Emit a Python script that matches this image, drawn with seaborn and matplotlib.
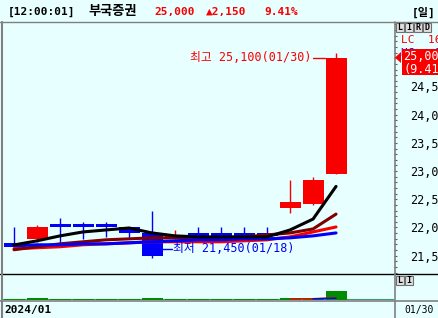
import numpy as np
import pandas as pd
import matplotlib
matplotlib.use("Agg")
import matplotlib.pyplot as plt
import seaborn as sns
from matplotlib.lines import Line2D
from matplotlib.patches import Rectangle, Polygon
from matplotlib.ticker import FixedLocator, MultipleLocator, FuncFormatter

# ---------------- data ----------------
dates = ["01/10", "01/11", "01/12", "01/15", "01/16", "01/17", "01/18", "01/19",
         "01/22", "01/23", "01/24", "01/25", "01/26", "01/29", "01/30"]
open_ = [21720, 21800, 22060, 22060, 22060, 22000, 21900, 21800,
         21900, 21900, 21900, 21900, 22350, 22420, 22950]
close = [21650, 22000, 22000, 22000, 22000, 21900, 21500, 21850,
         21850, 21850, 21850, 21850, 22450, 22850, 25000]
high = [22000, 22050, 22170, 22100, 22100, 22000, 22300, 21950,
        22000, 22000, 22010, 22000, 22850, 22900, 25100]
low = [21650, 21750, 21730, 21800, 21830, 21800, 21450, 21800,
       21850, 21850, 21850, 21850, 22250, 22400, 22950]
ma5 = [21690, 21763, 21851, 21921, 21956, 21991, 21903, 21851,
       21833, 21833, 21833, 21833, 21956, 22149, 22728]
ma10 = [21605, 21658, 21710, 21746, 21781, 21798, 21816, 21816,
        21816, 21816, 21833, 21868, 21903, 21974, 22237]
ma20 = [21623, 21640, 21658, 21693, 21710, 21728, 21746, 21746,
        21746, 21746, 21763, 21781, 21833, 21921, 22009]
ma60 = [21675, 21693, 21693, 21710, 21710, 21728, 21746, 21763,
        21781, 21781, 21798, 21798, 21816, 21851, 21903]
volume = [150, 200, 120, 100, 100, 110, 190, 140, 100, 90, 80, 110, 170, 120, 1000]
vol_ma_red = [np.nan] * 12 + [140, 150, 250]
vol_ma_blue = [np.nan] * 13 + [130, 200]
price_ticks = [21500, 22000, 22500, 23000, 23500, 24000, 24500]

# ---------------- style ----------------
BG = "#E8FFFF"
RED = "#F80000"
BLUE = "#0000F8"
MAROON = "#800000"
GREEN = "#008C00"
GREY = "#808080"
sns.set_style("white")
plt.rcParams["font.family"] = ["DejaVu Sans Mono", "Noto Sans CJK KR"]

W, H = 438, 318
def fx(x):
    return x / W
def fy(y):
    return 1 - y / H

fig = plt.figure(figsize=(4.38, 3.18), dpi=100, facecolor=BG)

# main axes: px x 3..394, y 22..274
ax = fig.add_axes([fx(3), fy(274), fx(394) - fx(3), fy(22) - fy(274)], facecolor=BG)
n = len(dates)
xs = np.arange(n)
o = np.array(open_); c = np.array(close)
colors = [RED if c[i] >= o[i] else BLUE for i in range(n)]
ax.vlines(xs, low, high, colors=colors, linewidth=1.0, zorder=2)
body_h = np.maximum(np.abs(c - o), 40)
ax.bar(xs, body_h, bottom=np.minimum(o, c), width=0.91, color=colors,
       linewidth=0, zorder=3)

ma_df = pd.concat([
    pd.DataFrame({"x": xs, "v": ma20, "ma": "MA20"}),
    pd.DataFrame({"x": xs, "v": ma10, "ma": "MA10"}),
    pd.DataFrame({"x": xs, "v": ma60, "ma": "MA60"}),
    pd.DataFrame({"x": xs, "v": ma5, "ma": "MA5"}),
])
sns.lineplot(data=ma_df, x="x", y="v", hue="ma",
             hue_order=["MA20", "MA10", "MA60", "MA5"],
             palette={"MA20": RED, "MA10": MAROON, "MA60": BLUE, "MA5": "black"},
             linewidth=2.2, estimator=None, legend=False, ax=ax, zorder=5)

ax.set_xlim(-0.48, 16.52)
ax.set_ylim(21175, 25643)
ax.set_xlabel(""); ax.set_ylabel("")
ax.set_xticks([])
for s in ax.spines.values():
    s.set_visible(False)
ax.yaxis.tick_right()
ax.yaxis.set_major_locator(FixedLocator(price_ticks))
ax.yaxis.set_minor_locator(MultipleLocator(100))
ax.yaxis.set_major_formatter(FuncFormatter(lambda v, p: f"{int(v):,}"))
ax.tick_params(axis="y", which="major", direction="out", length=2.5, width=0.8,
               color="#606060", pad=9, labelsize=8.5, labelcolor="black")
ax.tick_params(axis="y", which="minor", direction="out", length=2.5, width=0.8,
               color="#606060")

# high / low annotations
ax.plot([13.0, 13.5], [25000, 25000], color=RED, linewidth=1, zorder=6)
ax.text(12.95, 25010, "최고 25,100(01/30)", color=RED, fontsize=8.5,
        ha="right", va="center", zorder=6)
ax.plot([6.45, 6.87], [21610, 21610], color=BLUE, linewidth=1, zorder=6)
ax.text(6.9, 21620, "최저 21,450(01/18)", color=BLUE, fontsize=8.5,
        ha="left", va="center", zorder=6)

# volume axes: px y 274..300
axv = fig.add_axes([fx(3), fy(300), fx(394) - fx(3), fy(274) - fy(300)], facecolor=BG)
axv.bar(xs, volume, width=0.91, color=GREEN, linewidth=0, zorder=2)
axv.plot(xs, vol_ma_red, color=RED, linewidth=1, zorder=3)
axv.plot(xs, vol_ma_blue, color=BLUE, linewidth=1, zorder=3)
axv.axhline(0, color="#3A9A70", linewidth=1.5, zorder=1)
axv.set_xlim(-0.48, 16.52)
axv.set_ylim(0, 2900)
axv.set_xticks([]); axv.set_yticks([])
for s in axv.spines.values():
    s.set_visible(False)

# ---------------- frame lines ----------------
def hline(y, x0, x1, color, lw=1.0):
    fig.add_artist(Line2D([fx(x0), fx(x1)], [fy(y), fy(y)], color=color, linewidth=lw))
def vline(x, y0, y1, color, lw=1.0):
    fig.add_artist(Line2D([fx(x), fx(x)], [fy(y0), fy(y1)], color=color, linewidth=lw))

hline(21.7, 0, W, GREY)
hline(274, 0, W, "black")
hline(300.5, 0, W, GREY, 1.2)
vline(2, 22, H, GREY, 1.5)
vline(394.5, 22, H, GREY, 1.2)

# ---------------- title bar ----------------
ty = fy(12)
fig.text(fx(8), ty, "[12:00:01]", fontsize=8, fontweight="bold", color="black", va="center")
fig.text(fx(88), ty, "부국증권", fontsize=9.5, fontweight="bold", color="black", va="center")
fig.text(fx(154), ty, "25,000", fontsize=8, fontweight="bold", color=RED, va="center")
fig.text(fx(206), ty, "▲2,150", fontsize=8, fontweight="bold", color=RED, va="center")
fig.text(fx(264), ty, "9.41%", fontsize=8, fontweight="bold", color=RED, va="center")
fig.text(fx(412), ty, "[일]", fontsize=8, fontweight="bold", color="black", va="center")

# ---------------- right side widgets ----------------
def boxes(letters, x0, y0):
    for k, L in enumerate(letters):
        bx = x0 + k * 9
        fig.add_artist(Rectangle((fx(bx), fy(y0 + 9)), 8 / W, 9 / H,
                                 facecolor="#E0E0E0", edgecolor="#707070", linewidth=0.8))
        fig.text(fx(bx + 4), fy(y0 + 4.7), L, fontsize=6, fontweight="bold",
                 color="black", ha="center", va="center")

boxes("LIRD", 396, 23)
boxes("LI", 396, 276)

fig.text(fx(401), fy(40), "LC  16", fontsize=8, color=RED, va="center")
fig.text(fx(401), fy(53), "HC   8", fontsize=8, color=BLUE, va="center", zorder=1)
fig.add_artist(Rectangle((fx(402), fy(75)), 36 / W, 26 / H, facecolor=RED,
                         edgecolor="none", zorder=3))
fig.add_artist(Polygon([[fx(395), fy(57.5)], [fx(401), fy(52)], [fx(401), fy(63)]],
                       closed=True, facecolor=RED, edgecolor="none", zorder=3))
fig.text(fx(403), fy(57), "25,000", fontsize=8.5, color="white", va="center", zorder=4)
fig.text(fx(403), fy(69), "(9.41%", fontsize=8.5, color="white", va="center", zorder=4)

# ---------------- bottom bar ----------------
fig.text(fx(4), fy(310), "2024/01", fontsize=8, fontweight="bold", color="black", va="center")
fig.text(fx(404), fy(310.5), "01/30", fontsize=7, color="black", va="center")

fig.savefig("out.png", dpi=100, facecolor=BG)
